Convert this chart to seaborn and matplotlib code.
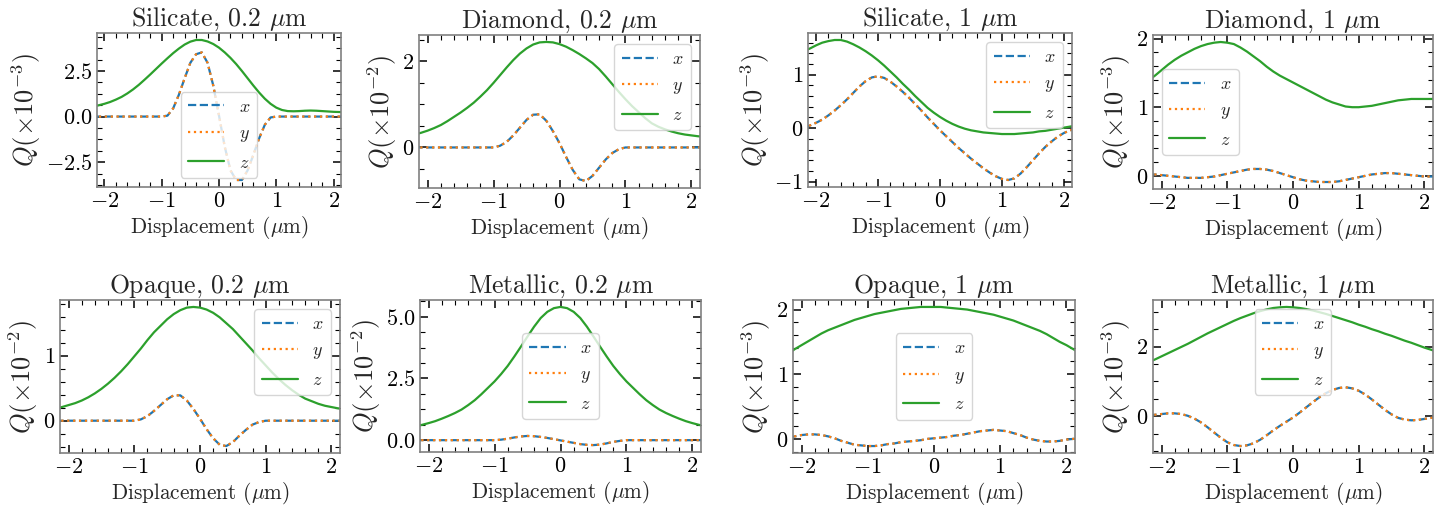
import numpy as np
import pandas as pd
import matplotlib
matplotlib.use("Agg")
import matplotlib.pyplot as plt
import seaborn as sns
from matplotlib.ticker import MultipleLocator, AutoMinorLocator

# ---------------- data ----------------
displacement = np.linspace(-2.2, 2.2, 45)  # micrometres, 0.1 grid

titles = ["Silicate, 0.2 $\\mu$m", "Diamond, 0.2 $\\mu$m", "Silicate, 1 $\\mu$m", "Diamond, 1 $\\mu$m",
          "Opaque, 0.2 $\\mu$m", "Metallic, 0.2 $\\mu$m", "Opaque, 1 $\\mu$m", "Metallic, 1 $\\mu$m"]
exponents = [-3, -2, -3, -3, -2, -2, -3, -3]
series_labels = ["$x$", "$y$", "$z$"]

silicate02_xy = [0, 0, 0, 0, 0, 0, 0, 0, 0, 0, 0, 0, 0,
                 0.05, 0.45, 1.20, 2.10, 2.95, 3.42, 3.52, 2.95, 1.70, 0.05,
                 -1.65, -2.95, -3.48, -3.48, -2.95, -2.10, -1.20, -0.45, -0.05,
                 0, 0, 0, 0, 0, 0, 0, 0, 0, 0, 0, 0, 0]
silicate02_z = [0.55, 0.62, 0.70, 0.80, 0.93, 1.08, 1.27, 1.49, 1.74, 2.02, 2.31, 2.61, 2.91,
                3.20, 3.48, 3.73, 3.95, 4.11, 4.20, 4.20, 4.12, 3.98, 3.78, 3.52, 3.22, 2.88,
                2.50, 2.10, 1.70, 1.32, 0.98, 0.70, 0.49, 0.36, 0.30, 0.29, 0.30, 0.32, 0.33,
                0.32, 0.30, 0.28, 0.26, 0.25, 0.24]

diamond02_xy = [0, 0, 0, 0, 0, 0, 0, 0, 0, 0, 0, 0, 0,
                0.04, 0.13, 0.28, 0.46, 0.64, 0.76, 0.77, 0.62, 0.38, 0.10,
                -0.22, -0.52, -0.74, -0.78, -0.66, -0.47, -0.28, -0.13, -0.04,
                0, 0, 0, 0, 0, 0, 0, 0, 0, 0, 0, 0, 0]
diamond02_z = [0.30, 0.34, 0.39, 0.45, 0.52, 0.61, 0.71, 0.81, 0.92, 1.04, 1.18, 1.33, 1.50,
               1.68, 1.86, 2.03, 2.18, 2.30, 2.39, 2.44, 2.45, 2.44, 2.40, 2.34, 2.26, 2.17,
               2.07, 1.96, 1.82, 1.65, 1.47, 1.29, 1.12, 0.96, 0.82, 0.68, 0.56, 0.48, 0.42,
               0.37, 0.33, 0.30, 0.28, 0.26, 0.25]

silicate1_xy = [0.0, 0.05, 0.10, 0.16, 0.24, 0.33, 0.43, 0.54, 0.66, 0.78, 0.88, 0.95, 0.97,
                0.94, 0.87, 0.78, 0.68, 0.57, 0.45, 0.33, 0.20, 0.08, -0.04, -0.15, -0.26,
                -0.37, -0.47, -0.57, -0.66, -0.75, -0.83, -0.90, -0.95, -0.97, -0.94, -0.85,
                -0.73, -0.60, -0.47, -0.35, -0.25, -0.16, -0.09, -0.04, -0.01]
silicate1_z = [1.44, 1.49, 1.55, 1.60, 1.63, 1.65, 1.65, 1.62, 1.57, 1.51, 1.44, 1.36, 1.27,
               1.17, 1.06, 0.95, 0.83, 0.72, 0.60, 0.49, 0.38, 0.29, 0.21, 0.14, 0.08, 0.03,
               -0.01, -0.04, -0.06, -0.08, -0.09, -0.10, -0.11, -0.11, -0.11, -0.10, -0.09,
               -0.08, -0.06, -0.05, -0.03, -0.01, 0.01, 0.03, 0.05]

diamond1_xy = [0.02, 0.02, 0.01, 0.0, -0.01, -0.02, -0.03, -0.03, -0.03, -0.02, -0.01, 0.01, 0.03,
               0.05, 0.07, 0.09, 0.10, 0.10, 0.09, 0.07, 0.04, 0.01,
               -0.02, -0.05, -0.07, -0.08, -0.09, -0.09, -0.09, -0.08, -0.06, -0.04, -0.02,
               0.0, 0.02, 0.03, 0.04, 0.04, 0.03, 0.02, 0.01, 0.0, -0.01, -0.01, -0.01]
diamond1_z = [1.39, 1.46, 1.54, 1.62, 1.69, 1.75, 1.80, 1.85, 1.89, 1.92, 1.94, 1.95, 1.94,
              1.92, 1.87, 1.81, 1.74, 1.67, 1.59, 1.52, 1.46, 1.41, 1.36, 1.31, 1.26, 1.21,
              1.16, 1.11, 1.07, 1.04, 1.01, 1.00, 1.00, 1.01, 1.02, 1.04, 1.06, 1.08, 1.10,
              1.11, 1.12, 1.12, 1.12, 1.12, 1.12]

opaque02_xy = [0, 0, 0, 0, 0, 0, 0, 0, 0, 0, 0, 0, 0,
               0.02, 0.07, 0.15, 0.24, 0.33, 0.39, 0.39, 0.31, 0.18, 0.03,
               -0.13, -0.27, -0.37, -0.39, -0.33, -0.23, -0.14, -0.06, -0.02,
               0, 0, 0, 0, 0, 0, 0, 0, 0, 0, 0, 0, 0]
opaque02_z = [0.19, 0.21, 0.24, 0.27, 0.31, 0.36, 0.42, 0.49, 0.57, 0.66, 0.76, 0.87, 0.99,
              1.11, 1.24, 1.36, 1.46, 1.56, 1.64, 1.70, 1.74, 1.75, 1.74, 1.71, 1.66, 1.59,
              1.50, 1.41, 1.30, 1.19, 1.08, 0.96, 0.85, 0.74, 0.64, 0.55, 0.47, 0.40, 0.34,
              0.30, 0.26, 0.23, 0.21, 0.19, 0.18]

metallic02_xy = [0, 0, 0, 0, 0, 0, 0, 0, 0, 0, 0, 0, 0,
                 0.02, 0.06, 0.11, 0.15, 0.17, 0.16, 0.13, 0.09, 0.04, -0.01,
                 -0.06, -0.11, -0.16, -0.19, -0.20, -0.18, -0.13, -0.07, -0.03,
                 0, 0, 0, 0, 0, 0, 0, 0, 0, 0, 0, 0, 0]
metallic02_z = [0.56, 0.62, 0.69, 0.77, 0.87, 0.98, 1.10, 1.24, 1.42, 1.62, 1.86, 2.12, 2.38,
                2.68, 3.01, 3.39, 3.79, 4.20, 4.60, 4.95, 5.20, 5.35, 5.40, 5.35, 5.20, 4.95,
                4.60, 4.20, 3.79, 3.39, 3.01, 2.68, 2.38, 2.12, 1.86, 1.62, 1.42, 1.24, 1.10,
                0.98, 0.87, 0.77, 0.69, 0.62, 0.56]

opaque1_xy = [0.02, 0.04, 0.06, 0.07, 0.07, 0.06, 0.04, 0.01, -0.03, -0.06, -0.09, -0.10, -0.11,
              -0.11, -0.10, -0.08, -0.07, -0.05, -0.04, -0.03, -0.02, 0.0, 0.01, 0.02, 0.03,
              0.05, 0.06, 0.08, 0.10, 0.12, 0.13, 0.14, 0.13, 0.12, 0.09, 0.06, 0.02, -0.01,
              -0.03, -0.04, -0.04, -0.03, -0.01, 0.0, 0.01]
opaque1_z = [1.32, 1.39, 1.45, 1.51, 1.57, 1.63, 1.68, 1.72, 1.76, 1.80, 1.84, 1.87, 1.90,
             1.93, 1.95, 1.97, 1.99, 2.01, 2.02, 2.03, 2.04, 2.04, 2.04, 2.04, 2.03, 2.02,
             2.01, 2.00, 1.98, 1.96, 1.94, 1.92, 1.89, 1.86, 1.83, 1.79, 1.75, 1.71, 1.67,
             1.62, 1.56, 1.50, 1.45, 1.39, 1.33]

metallic1_xy = [0.02, 0.04, 0.06, 0.08, 0.08, 0.06, 0.01, -0.07, -0.18, -0.32, -0.47, -0.62, -0.75,
                -0.83, -0.86, -0.84, -0.78, -0.68, -0.55, -0.41, -0.28, -0.16, -0.04, 0.10,
                0.25, 0.40, 0.54, 0.66, 0.75, 0.81, 0.83, 0.80, 0.73, 0.62, 0.48, 0.33, 0.18,
                0.05, -0.05, -0.10, -0.12, -0.11, -0.08, -0.05, -0.03]
metallic1_z = [1.55, 1.63, 1.72, 1.81, 1.90, 1.99, 2.08, 2.18, 2.28, 2.38, 2.47, 2.56, 2.65,
               2.74, 2.82, 2.89, 2.96, 3.02, 3.07, 3.11, 3.13, 3.14, 3.13, 3.11, 3.08, 3.04,
               2.99, 2.94, 2.88, 2.82, 2.76, 2.70, 2.63, 2.57, 2.50, 2.44, 2.37, 2.31, 2.24,
               2.17, 2.11, 2.04, 1.97, 1.91, 1.85]

xy_series = [silicate02_xy, diamond02_xy, silicate1_xy, diamond1_xy,
             opaque02_xy, metallic02_xy, opaque1_xy, metallic1_xy]
z_series = [silicate02_z, diamond02_z, silicate1_z, diamond1_z,
            opaque02_z, metallic02_z, opaque1_z, metallic1_z]

y_major_steps = [2.5, 2, 1, 1, 1, 2.5, 1, 2]
y_minor_divs = [4, 4, 5, 5, 5, 4, 5, 4]
legend_locs = ["lower center", "upper right", "upper right", "center left",
               "upper right", "center", "center", "upper center"]

# ---------------- layout (pixel boxes: left, right, top, bottom) ----------------
W, H = 1443, 514
boxes = [(97, 341, 33, 187), (419, 700, 35, 188), (808, 1072, 33, 187), (1153, 1433, 35, 189),
         (60, 340, 300, 453), (420, 701, 300, 452), (793, 1075, 300, 453), (1153, 1433, 300, 453)]

sns.set_theme(style="ticks")
plt.rcParams.update({
    "font.family": "serif",
    "font.serif": ["cmr10"],
    "mathtext.fontset": "cm",
    "axes.formatter.use_mathtext": True,
    "axes.unicode_minus": True,
    "axes.edgecolor": "0.5",
    "axes.linewidth": 1.2,
    "xtick.direction": "in", "ytick.direction": "in",
    "xtick.top": True, "ytick.right": True,
    "xtick.major.size": 6, "ytick.major.size": 6,
    "xtick.minor.size": 3.5, "ytick.minor.size": 3.5,
    "xtick.major.width": 1.1, "ytick.major.width": 1.1,
    "xtick.minor.width": 0.8, "ytick.minor.width": 0.8,
    "xtick.color": "black", "ytick.color": "black",
    "xtick.labelsize": 16, "ytick.labelsize": 16,
    "axes.labelsize": 15.3, "axes.titlesize": 18.5,
    "legend.fontsize": 13,
})

palette = sns.color_palette("tab10")
fig = plt.figure(figsize=(W / 100, H / 100), dpi=100)

for i in range(8):
    L, R, T, B = boxes[i]
    ax = fig.add_axes([L / W, 1 - B / H, (R - L) / W, (B - T) / H])
    df = pd.DataFrame({"d": displacement, "xy": xy_series[i], "z": z_series[i]})
    sns.lineplot(data=df, x="d", y="xy", ax=ax, color=palette[0], linestyle="--",
                 linewidth=1.6, label=series_labels[0])
    sns.lineplot(data=df, x="d", y="xy", ax=ax, color=palette[1], linestyle=":",
                 linewidth=1.6, label=series_labels[1])
    sns.lineplot(data=df, x="d", y="z", ax=ax, color=palette[2], linestyle="-",
                 linewidth=1.6, label=series_labels[2])
    ax.set_xlim(-2.13, 2.13)
    ax.xaxis.set_major_locator(MultipleLocator(1))
    ax.xaxis.set_minor_locator(AutoMinorLocator(5))
    ax.yaxis.set_major_locator(MultipleLocator(y_major_steps[i]))
    ax.yaxis.set_minor_locator(AutoMinorLocator(y_minor_divs[i]))
    ax.tick_params(which="both", top=True, right=True, direction="in")
    ax.set_title(titles[i], pad=3)
    ax.set_xlabel("Displacement ($\\mu$m)", labelpad=2)
    ax.set_ylabel("$Q(\\times 10^{%d})$" % exponents[i], fontsize=19, labelpad=2)
    ax.legend(loc=legend_locs[i], framealpha=0.8, edgecolor="0.8", fancybox=True,
              labelspacing=0.6)

fig.savefig("out.png", dpi=100)
